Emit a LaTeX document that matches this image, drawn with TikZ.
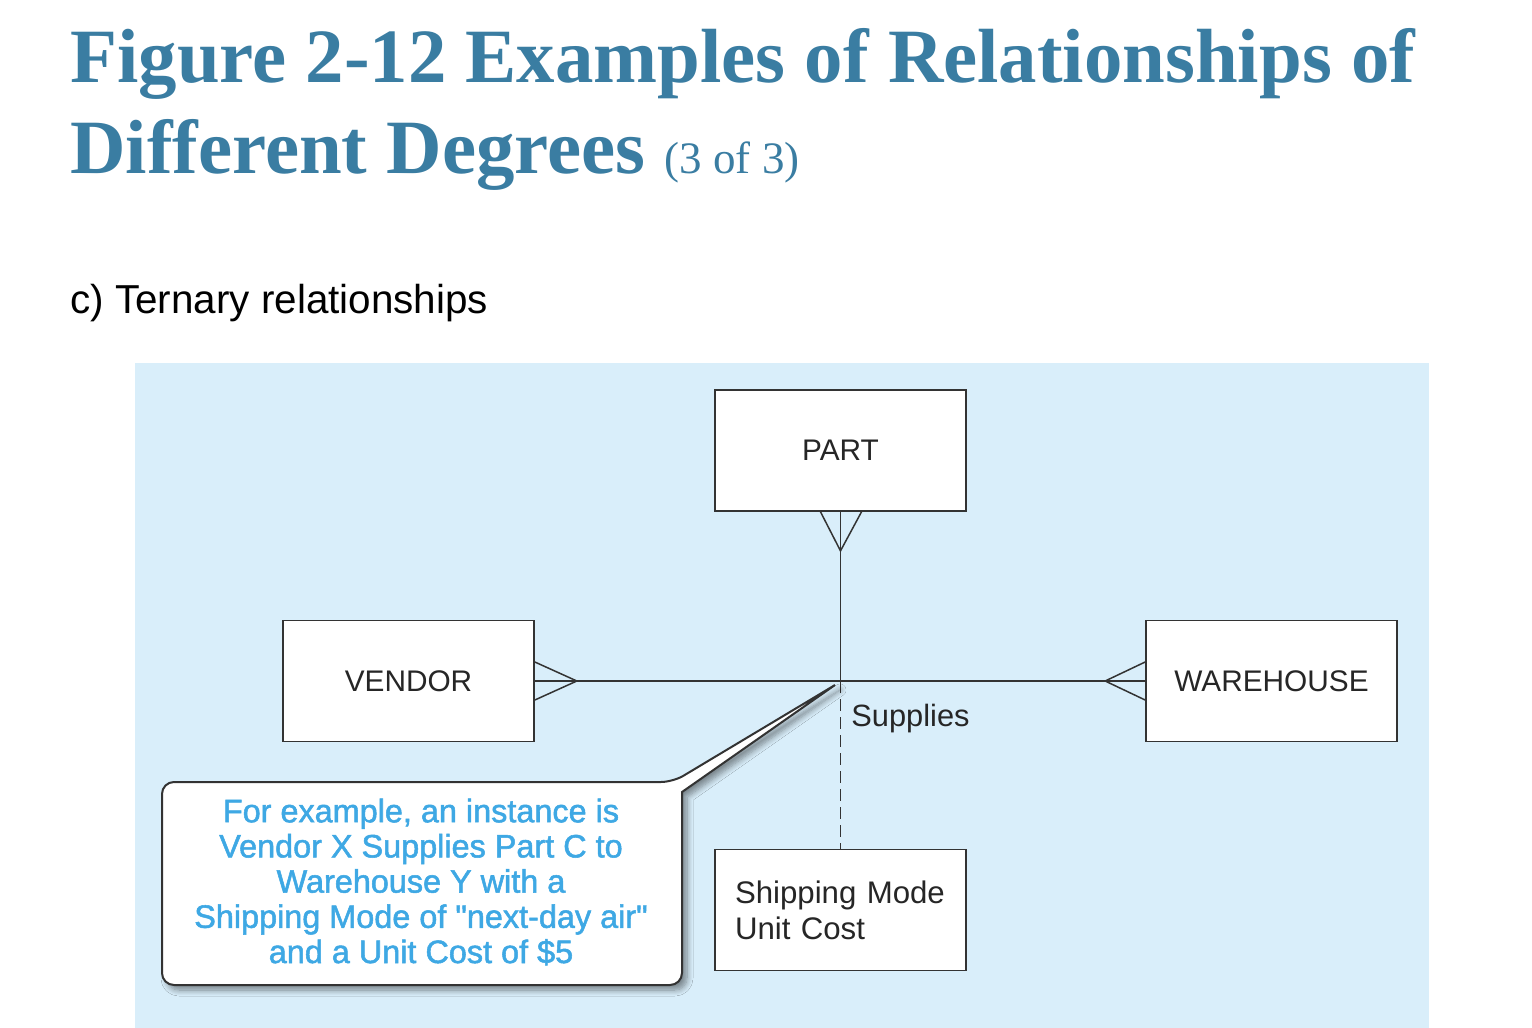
\documentclass[tikz,border=0pt]{standalone}
\usepackage{fontspec}
\setmainfont{Liberation Serif}
\newfontfamily\lsans{Liberation Sans}
\newfontfamily\calfont[FakeBold=1.6]{Liberation Sans}
\usetikzlibrary{calc,shadows,shadows.blur}
\definecolor{titleblue}{HTML}{3A7DA2}
\definecolor{bgblue}{HTML}{D9EEFA}
\definecolor{calblue}{HTML}{3EA8E4}
\definecolor{ln}{HTML}{333333}
\begin{document}
\begin{tikzpicture}[x=0.5pt,y=-0.5pt,
  entity/.style={draw=ln, line width=0.85pt, fill=white, minimum width=125.5pt,
    minimum height=60.5pt, inner sep=0pt, font=\lsans\fontsize{14.9}{18}\selectfont, text=black!85},
  link/.style={draw=ln, line width=0.75pt},
  callout/.style={draw=ln, line width=1pt, fill=white,
    blur shadow={shadow blur steps=8, shadow xshift=2.5pt, shadow yshift=-2.5pt, shadow blur radius=3pt, shadow opacity=45}},
  titlefont/.style={font=\bfseries\fontsize{38.4}{44}\selectfont, text=titleblue, inner sep=0pt, anchor=base west}
]
\useasboundingbox (0,0) rectangle (1532,1028);
\fill[white] (0,0) rectangle (1532,1028);
\node[titlefont] (title1) at (70,82) {Figure 2-12 Examples of Relationships of};
\node[titlefont] (title2) at (70,173) {Different Degrees {\mdseries\fontsize{22.5}{26}\selectfont (3 of 3)}};
\node[anchor=base west, inner sep=0pt, font=\lsans\fontsize{20.2}{24}\selectfont] (sub) at (70,313) {c) Ternary relationships};

\fill[bgblue] (135,363) rectangle (1429,1028);

\node[entity] (part) at (840.5,450.5) {PART};
\node[entity] (vendor) at (408.5,681) {VENDOR};
\node[entity] (warehouse) at (1271.5,681) {WAREHOUSE};
\node[entity, align=left, text width=105.5pt, inner xsep=10pt, font=\lsans\fontsize{15.6}{18}\selectfont] (ship) at (840.5,910) {Shipping Mode\\Unit Cost};
\coordinate (hub) at (840.5,681);

\draw[link] (part.south) -- (hub);
\draw[link] (vendor.east) -- (warehouse.west);
\draw[link] ($(part.south)+(-20,0)$) -- ($(part.south)+(0,39)$) -- ($(part.south)+(21,0)$);
\draw[link] ($(vendor.east)+(0,-19)$) -- ($(vendor.east)+(42,0)$) -- ($(vendor.east)+(0,19)$);
\draw[link] ($(warehouse.west)+(0,-19)$) -- ($(warehouse.west)+(-40,0)$) -- ($(warehouse.west)+(0,19)$);
\draw[link, dash pattern=on 6pt off 3pt] (hub) -- (ship.north);
\node[anchor=west, inner sep=0pt, font=\lsans\fontsize{15.4}{18}\selectfont, text=black!85] (supplies) at (851,719) {Supplies};

\draw[callout] (162,880) [rounded corners=6pt] -- (162,782) -- (673,782) [sharp corners] -- (835,685) -- (682,792) [rounded corners=6pt] -- (682,985) -- (162,985) -- cycle;
\node[align=center, inner sep=0pt, text=calblue, font=\calfont\fontsize{16.2}{17.6}\selectfont] (note) at (421,882)
  {For example, an instance is\\Vendor X Supplies Part C to\\Warehouse Y with a\\Shipping Mode of "next-day air"\\and a Unit Cost of \$5};
\end{tikzpicture}
\end{document}
